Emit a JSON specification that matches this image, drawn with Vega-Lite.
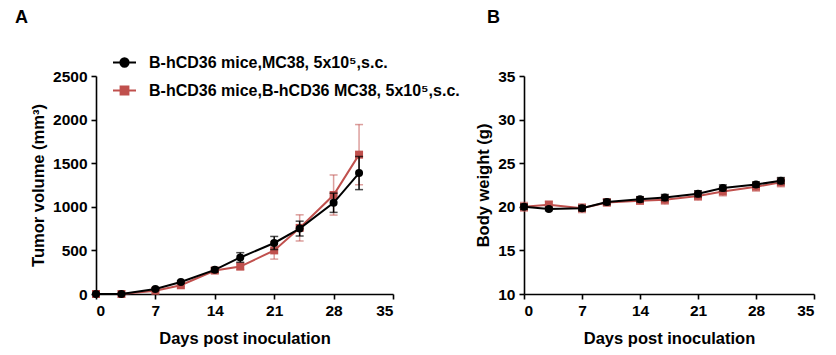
{
  "$schema": "https://vega.github.io/schema/vega-lite/v6.json",
  "background": "white",
  "padding": {"left": 15, "top": 9, "right": 5, "bottom": 5},
  "datasets": {
    "tumor": [
      {"group": "B-hCD36 mice,MC38, 5x10⁵,s.c.", "day": 0, "mean": 0, "sem": 0},
      {"group": "B-hCD36 mice,MC38, 5x10⁵,s.c.", "day": 3, "mean": 0, "sem": 4},
      {"group": "B-hCD36 mice,MC38, 5x10⁵,s.c.", "day": 7, "mean": 58, "sem": 10},
      {"group": "B-hCD36 mice,MC38, 5x10⁵,s.c.", "day": 10, "mean": 138, "sem": 15},
      {"group": "B-hCD36 mice,MC38, 5x10⁵,s.c.", "day": 14, "mean": 277, "sem": 25},
      {"group": "B-hCD36 mice,MC38, 5x10⁵,s.c.", "day": 17, "mean": 419, "sem": 55},
      {"group": "B-hCD36 mice,MC38, 5x10⁵,s.c.", "day": 21, "mean": 585, "sem": 75},
      {"group": "B-hCD36 mice,MC38, 5x10⁵,s.c.", "day": 24, "mean": 750, "sem": 85},
      {"group": "B-hCD36 mice,MC38, 5x10⁵,s.c.", "day": 28, "mean": 1046, "sem": 110},
      {"group": "B-hCD36 mice,MC38, 5x10⁵,s.c.", "day": 31, "mean": 1387, "sem": 190},
      {"group": "B-hCD36 mice,B-hCD36 MC38, 5x10⁵,s.c.", "day": 0, "mean": 0, "sem": 0},
      {"group": "B-hCD36 mice,B-hCD36 MC38, 5x10⁵,s.c.", "day": 3, "mean": 0, "sem": 3},
      {"group": "B-hCD36 mice,B-hCD36 MC38, 5x10⁵,s.c.", "day": 7, "mean": 38, "sem": 8},
      {"group": "B-hCD36 mice,B-hCD36 MC38, 5x10⁵,s.c.", "day": 10, "mean": 100, "sem": 12},
      {"group": "B-hCD36 mice,B-hCD36 MC38, 5x10⁵,s.c.", "day": 14, "mean": 269, "sem": 30},
      {"group": "B-hCD36 mice,B-hCD36 MC38, 5x10⁵,s.c.", "day": 17, "mean": 315, "sem": 35},
      {"group": "B-hCD36 mice,B-hCD36 MC38, 5x10⁵,s.c.", "day": 21, "mean": 500, "sem": 100},
      {"group": "B-hCD36 mice,B-hCD36 MC38, 5x10⁵,s.c.", "day": 24, "mean": 758, "sem": 150},
      {"group": "B-hCD36 mice,B-hCD36 MC38, 5x10⁵,s.c.", "day": 28, "mean": 1135, "sem": 230},
      {"group": "B-hCD36 mice,B-hCD36 MC38, 5x10⁵,s.c.", "day": 31, "mean": 1598, "sem": 345}
    ],
    "weight": [
      {"group": "B-hCD36 mice,MC38, 5x10⁵,s.c.", "day": 0, "mean": 20.0, "sem": 0.3},
      {"group": "B-hCD36 mice,MC38, 5x10⁵,s.c.", "day": 3, "mean": 19.76, "sem": 0.2},
      {"group": "B-hCD36 mice,MC38, 5x10⁵,s.c.", "day": 7, "mean": 19.84, "sem": 0.3},
      {"group": "B-hCD36 mice,MC38, 5x10⁵,s.c.", "day": 10, "mean": 20.55, "sem": 0.3},
      {"group": "B-hCD36 mice,MC38, 5x10⁵,s.c.", "day": 14, "mean": 20.86, "sem": 0.3},
      {"group": "B-hCD36 mice,MC38, 5x10⁵,s.c.", "day": 17, "mean": 21.06, "sem": 0.35},
      {"group": "B-hCD36 mice,MC38, 5x10⁵,s.c.", "day": 21, "mean": 21.49, "sem": 0.35},
      {"group": "B-hCD36 mice,MC38, 5x10⁵,s.c.", "day": 24, "mean": 22.16, "sem": 0.35},
      {"group": "B-hCD36 mice,MC38, 5x10⁵,s.c.", "day": 28, "mean": 22.55, "sem": 0.3},
      {"group": "B-hCD36 mice,MC38, 5x10⁵,s.c.", "day": 31, "mean": 23.0, "sem": 0.35},
      {"group": "B-hCD36 mice,B-hCD36 MC38, 5x10⁵,s.c.", "day": 0, "mean": 20.0, "sem": 0.5},
      {"group": "B-hCD36 mice,B-hCD36 MC38, 5x10⁵,s.c.", "day": 3, "mean": 20.24, "sem": 0.4},
      {"group": "B-hCD36 mice,B-hCD36 MC38, 5x10⁵,s.c.", "day": 7, "mean": 19.84, "sem": 0.5},
      {"group": "B-hCD36 mice,B-hCD36 MC38, 5x10⁵,s.c.", "day": 10, "mean": 20.5, "sem": 0.4},
      {"group": "B-hCD36 mice,B-hCD36 MC38, 5x10⁵,s.c.", "day": 14, "mean": 20.7, "sem": 0.4},
      {"group": "B-hCD36 mice,B-hCD36 MC38, 5x10⁵,s.c.", "day": 17, "mean": 20.8, "sem": 0.5},
      {"group": "B-hCD36 mice,B-hCD36 MC38, 5x10⁵,s.c.", "day": 21, "mean": 21.25, "sem": 0.5},
      {"group": "B-hCD36 mice,B-hCD36 MC38, 5x10⁵,s.c.", "day": 24, "mean": 21.76, "sem": 0.5},
      {"group": "B-hCD36 mice,B-hCD36 MC38, 5x10⁵,s.c.", "day": 28, "mean": 22.3, "sem": 0.5},
      {"group": "B-hCD36 mice,B-hCD36 MC38, 5x10⁵,s.c.", "day": 31, "mean": 22.8, "sem": 0.5}
    ]
  },
  "config": {
    "font": "Liberation Sans",
    "view": {"stroke": null},
    "axis": {
      "grid": false,
      "domainColor": "black", "domainWidth": 1.6,
      "tickColor": "black", "tickWidth": 1.6, "tickSize": 5,
      "labelFont": "Liberation Sans", "labelFontWeight": "bold", "labelFontSize": 15.5, "labelColor": "black",
      "titleFont": "Liberation Sans", "titleFontWeight": "bold", "titleFontSize": 16.5, "titleColor": "black"
    },
    "axisX": {"labelPadding": 4, "titlePadding": 12},
    "axisY": {"labelPadding": 4, "titlePadding": 6, "format": "d"},
    "legend": {
      "orient": "none", "legendX": 16, "legendY": -26,
      "title": null, "padding": 0,
      "symbolSize": 529, "symbolStrokeWidth": 2, "symbolOpacity": 1,
      "labelFont": "Liberation Sans", "labelFontWeight": "bold", "labelFontSize": 16, "labelColor": "black",
      "labelOffset": 12, "rowPadding": 7, "labelLimit": 500
    },
    "title": {"font": "Liberation Sans", "fontSize": 18, "fontWeight": "bold", "color": "black", "anchor": "start", "frame": "group"}
  },
  "bounds": "flush",
  "spacing": 131,
  "hconcat": [
    {
      "title": {"text": "A", "dx": -81, "offset": 42},
      "width": 297, "height": 218,
      "data": {"name": "tumor"},
      "layer": [
        {
          "transform": [{"filter": {"field": "group", "equal": "B-hCD36 mice,B-hCD36 MC38, 5x10⁵,s.c."}}],
          "mark": {"type": "errorbar", "ticks": {"size": 8}, "color": "#c0504d", "opacity": 0.55, "thickness": 1.5},
          "encoding": {
            "x": {"field": "day", "type": "quantitative", "scale": {"domain": [0, 35]}, "axis": {"values": [0, 7, 14, 21, 28, 35], "title": "Days post inoculation"}},
            "y": {"field": "mean", "type": "quantitative", "scale": {"domain": [0, 2500]}, "axis": {"values": [0, 500, 1000, 1500, 2000, 2500], "title": "Tumor volume (mm³)"}},
            "yError": {"field": "sem"}
          }
        },
        {
          "transform": [{"filter": {"field": "group", "equal": "B-hCD36 mice,B-hCD36 MC38, 5x10⁵,s.c."}}],
          "mark": {"type": "line", "color": "#c0504d", "strokeWidth": 2, "point": {"shape": "square", "size": 64, "filled": true, "color": "#c0504d", "opacity": 1}},
          "encoding": {
            "x": {"field": "day", "type": "quantitative", "scale": {"domain": [0, 35]}, "axis": {"values": [0, 7, 14, 21, 28, 35], "title": "Days post inoculation"}},
            "y": {"field": "mean", "type": "quantitative", "scale": {"domain": [0, 2500]}, "axis": {"values": [0, 500, 1000, 1500, 2000, 2500], "title": "Tumor volume (mm³)"}}
          }
        },
        {
          "transform": [{"filter": {"field": "group", "equal": "B-hCD36 mice,MC38, 5x10⁵,s.c."}}],
          "mark": {"type": "errorbar", "ticks": {"size": 8}, "color": "black", "thickness": 1.5},
          "encoding": {
            "x": {"field": "day", "type": "quantitative", "scale": {"domain": [0, 35]}, "axis": {"values": [0, 7, 14, 21, 28, 35], "title": "Days post inoculation"}},
            "y": {"field": "mean", "type": "quantitative", "scale": {"domain": [0, 2500]}, "axis": {"values": [0, 500, 1000, 1500, 2000, 2500], "title": "Tumor volume (mm³)"}},
            "yError": {"field": "sem"}
          }
        },
        {
          "transform": [{"filter": {"field": "group", "equal": "B-hCD36 mice,MC38, 5x10⁵,s.c."}}],
          "mark": {"type": "line", "color": "black", "strokeWidth": 2, "point": {"shape": "circle", "size": 64, "filled": true, "color": "black", "opacity": 1}},
          "encoding": {
            "x": {"field": "day", "type": "quantitative", "scale": {"domain": [0, 35]}, "axis": {"values": [0, 7, 14, 21, 28, 35], "title": "Days post inoculation"}},
            "y": {"field": "mean", "type": "quantitative", "scale": {"domain": [0, 2500]}, "axis": {"values": [0, 500, 1000, 1500, 2000, 2500], "title": "Tumor volume (mm³)"}}
          }
        },
        {
          "transform": [{"filter": {"field": "day", "lt": 0}}],
          "mark": {"type": "point", "filled": true, "opacity": 1},
          "encoding": {
            "x": {"field": "day", "type": "quantitative", "scale": {"domain": [0, 35]}},
            "y": {"field": "mean", "type": "quantitative", "scale": {"domain": [0, 2500]}},
            "fill": {"field": "group", "type": "nominal", "scale": {"domain": ["B-hCD36 mice,MC38, 5x10⁵,s.c.", "B-hCD36 mice,B-hCD36 MC38, 5x10⁵,s.c."], "range": ["black", "#c0504d"]}},
            "stroke": {"field": "group", "type": "nominal", "scale": {"domain": ["B-hCD36 mice,MC38, 5x10⁵,s.c.", "B-hCD36 mice,B-hCD36 MC38, 5x10⁵,s.c."], "range": ["black", "#c0504d"]}},
            "shape": {"field": "group", "type": "nominal", "scale": {"domain": ["B-hCD36 mice,MC38, 5x10⁵,s.c.", "B-hCD36 mice,B-hCD36 MC38, 5x10⁵,s.c."], "range": ["M-1,0H1M0.36,0A0.36,0.36,0,1,1,-0.36,0A0.36,0.36,0,1,1,0.36,0Z", "M-1,0H1M-0.34,-0.34H0.34V0.34H-0.34Z"]}}
          }
        }
      ]
    },
    {
      "title": {"text": "B", "dx": -37, "offset": 42},
      "width": 290, "height": 218,
      "data": {"name": "weight"},
      "layer": [
        {
          "transform": [{"filter": {"field": "group", "equal": "B-hCD36 mice,B-hCD36 MC38, 5x10⁵,s.c."}}],
          "mark": {"type": "errorbar", "ticks": {"size": 8}, "color": "#c0504d", "opacity": 0.55, "thickness": 1.5},
          "encoding": {
            "x": {"field": "day", "type": "quantitative", "scale": {"domain": [0, 35]}, "axis": {"values": [0, 7, 14, 21, 28, 35], "title": "Days post inoculation"}},
            "y": {"field": "mean", "type": "quantitative", "scale": {"domain": [10, 35], "zero": false}, "axis": {"values": [10, 15, 20, 25, 30, 35], "title": "Body weight (g)"}},
            "yError": {"field": "sem"}
          }
        },
        {
          "transform": [{"filter": {"field": "group", "equal": "B-hCD36 mice,B-hCD36 MC38, 5x10⁵,s.c."}}],
          "mark": {"type": "line", "color": "#c0504d", "strokeWidth": 2, "point": {"shape": "square", "size": 64, "filled": true, "color": "#c0504d", "opacity": 1}},
          "encoding": {
            "x": {"field": "day", "type": "quantitative", "scale": {"domain": [0, 35]}, "axis": {"values": [0, 7, 14, 21, 28, 35], "title": "Days post inoculation"}},
            "y": {"field": "mean", "type": "quantitative", "scale": {"domain": [10, 35], "zero": false}, "axis": {"values": [10, 15, 20, 25, 30, 35], "title": "Body weight (g)"}}
          }
        },
        {
          "transform": [{"filter": {"field": "group", "equal": "B-hCD36 mice,MC38, 5x10⁵,s.c."}}],
          "mark": {"type": "errorbar", "ticks": {"size": 8}, "color": "black", "thickness": 1.5},
          "encoding": {
            "x": {"field": "day", "type": "quantitative", "scale": {"domain": [0, 35]}, "axis": {"values": [0, 7, 14, 21, 28, 35], "title": "Days post inoculation"}},
            "y": {"field": "mean", "type": "quantitative", "scale": {"domain": [10, 35], "zero": false}, "axis": {"values": [10, 15, 20, 25, 30, 35], "title": "Body weight (g)"}},
            "yError": {"field": "sem"}
          }
        },
        {
          "transform": [{"filter": {"field": "group", "equal": "B-hCD36 mice,MC38, 5x10⁵,s.c."}}],
          "mark": {"type": "line", "color": "black", "strokeWidth": 2, "point": {"shape": "circle", "size": 64, "filled": true, "color": "black", "opacity": 1}},
          "encoding": {
            "x": {"field": "day", "type": "quantitative", "scale": {"domain": [0, 35]}, "axis": {"values": [0, 7, 14, 21, 28, 35], "title": "Days post inoculation"}},
            "y": {"field": "mean", "type": "quantitative", "scale": {"domain": [10, 35], "zero": false}, "axis": {"values": [10, 15, 20, 25, 30, 35], "title": "Body weight (g)"}}
          }
        }
      ]
    }
  ]
}
